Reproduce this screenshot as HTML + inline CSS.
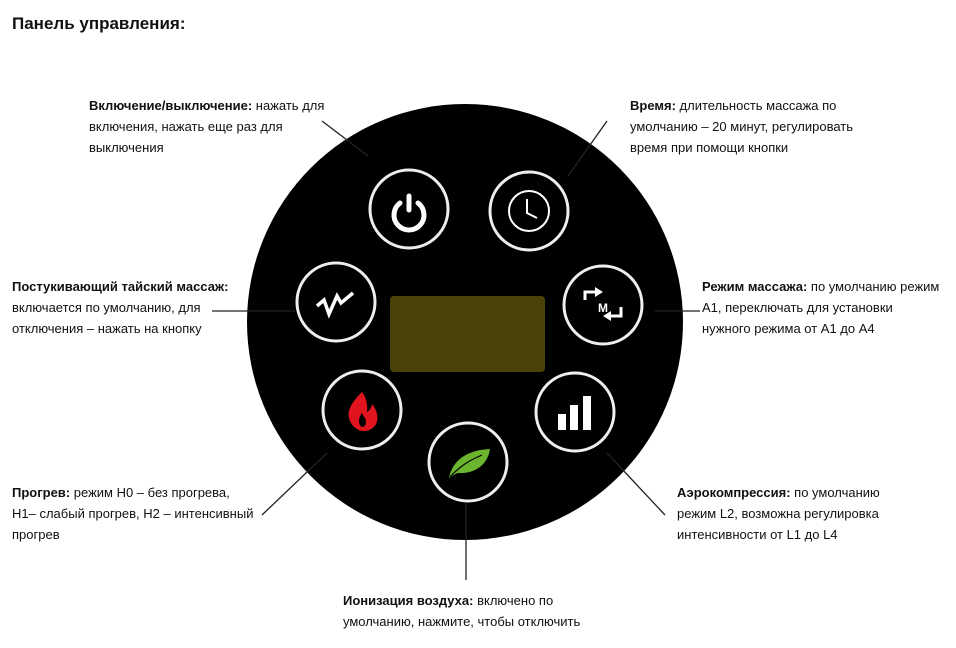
<!DOCTYPE html>
<html><head><meta charset="utf-8"><style>
body{margin:0;width:956px;height:648px;background:#fff;position:relative;overflow:hidden;font-family:"Liberation Sans","DejaVu Sans",sans-serif;color:#111}
.t{position:absolute;font-size:13px;line-height:21px;white-space:nowrap}
b{font-weight:bold}
h1{position:absolute;left:12px;top:14px;margin:0;font-size:17px;font-weight:bold}
svg{position:absolute;left:0;top:0}
</style></head><body>
<svg width="956" height="648">
<circle cx="465" cy="322" r="218" fill="#000"/>
<g stroke="#222" stroke-width="1.3">
<line x1="322" y1="121" x2="368" y2="156"/>
<line x1="607" y1="121" x2="568" y2="176"/>
<line x1="212" y1="311" x2="295" y2="311"/>
<line x1="655" y1="311" x2="700" y2="311"/>
<line x1="327" y1="453" x2="262" y2="515"/>
<line x1="607" y1="453" x2="665" y2="515"/>
<line x1="466" y1="503" x2="466" y2="580"/>
</g>
<rect x="390" y="296" width="155" height="76" rx="4" fill="#4a4309"/>
<g fill="none" stroke="#eee" stroke-width="3">
<circle cx="409" cy="209" r="39"/>
<circle cx="529" cy="211" r="39"/>
<circle cx="336" cy="302" r="39"/>
<circle cx="603" cy="305" r="39"/>
<circle cx="362" cy="410" r="39"/>
<circle cx="575" cy="412" r="39"/>
<circle cx="468" cy="462" r="39"/>
</g>
<!-- power -->
<path d="M400 203 A15 15 0 1 0 418 203" fill="none" stroke="#fff" stroke-width="5" stroke-linecap="round"/>
<line x1="409" y1="196" x2="409" y2="210" stroke="#fff" stroke-width="5" stroke-linecap="round"/>
<!-- clock -->
<circle cx="529" cy="211" r="20" fill="none" stroke="#fff" stroke-width="2"/>
<path d="M527 199 V213 L537 218" fill="none" stroke="#fff" stroke-width="2"/>
<!-- thai -->
<path d="M317 306 L324 300 L329 314 L337 296 L341 303 L353 293" fill="none" stroke="#fff" stroke-width="3.5" stroke-linejoin="miter"/>
<!-- mode -->
<path d="M585 300 V292 H596" fill="none" stroke="#fff" stroke-width="3"/>
<path d="M595 287 L603 292 L595 297Z" fill="#fff"/>
<path d="M621 307 V316 H610" fill="none" stroke="#fff" stroke-width="3"/>
<path d="M611 311 L603 316 L611 321Z" fill="#fff"/>
<text x="603" y="312" font-family="Liberation Sans" font-weight="bold" font-size="12" fill="#fff" text-anchor="middle">M</text>
<!-- fire -->
<path d="M362 392 C352 402 347 410 349 418 C351 427 360 432 365 431 C374 430 379 423 377 414 C376 409 373 405 372 404 C371 409 369 411 367 412 C368 404 366 397 362 392Z" fill="#e0141e"/>
<path d="M362 413 C358 418 358 425 362 427 C366 427 367 422 365 418 C364 417 363 415 362 413Z" fill="#000"/>
<!-- bars -->
<rect x="558" y="414" width="8" height="16" fill="#fff"/>
<rect x="570" y="405" width="8" height="25" fill="#fff"/>
<rect x="583" y="396" width="8" height="34" fill="#fff"/>
<!-- leaf -->
<path d="M449 478 C452 462 465 450 490 449 C488 463 477 474 458 473 C455 474 452 476 449 478Z" fill="#6ab42e"/>
<path d="M450 477 C460 466 470 460 482 455" fill="none" stroke="#000" stroke-width="1.2"/>
</svg>
<h1>Панель управления:</h1>
<div class="t" style="left:89px;top:95px"><b>Включение/выключение:</b> нажать для<br>включения, нажать еще раз для<br>выключения</div>
<div class="t" style="left:630px;top:95px"><b>Время:</b> длительность массажа по<br>умолчанию – 20 минут, регулировать<br>время при помощи кнопки</div>
<div class="t" style="left:12px;top:276px"><b>Постукивающий тайский массаж:</b><br>включается по умолчанию, для<br>отключения – нажать на кнопку</div>
<div class="t" style="left:702px;top:276px"><b>Режим массажа:</b> по умолчанию режим<br>A1, переключать для установки<br>нужного режима от A1 до A4</div>
<div class="t" style="left:12px;top:482px"><b>Прогрев:</b> режим H0 – без прогрева,<br>H1– слабый прогрев, H2 – интенсивный<br>прогрев</div>
<div class="t" style="left:677px;top:482px"><b>Аэрокомпрессия:</b> по умолчанию<br>режим L2, возможна регулировка<br>интенсивности от L1 до L4</div>
<div class="t" style="left:343px;top:590px"><b>Ионизация воздуха:</b> включено по<br>умолчанию, нажмите, чтобы отключить</div>
</body></html>
